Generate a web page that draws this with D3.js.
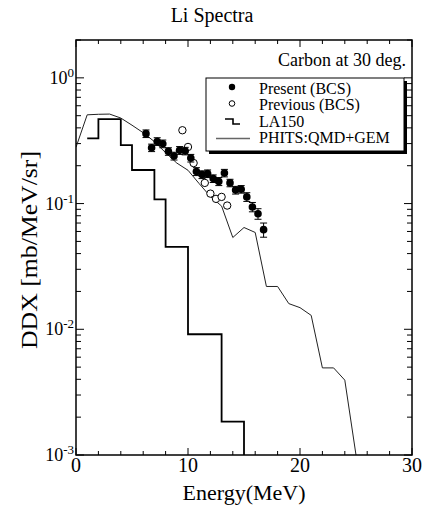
<!DOCTYPE html>
<html>
<head>
<meta charset="utf-8">
<script src="https://cdn.jsdelivr.net/npm/d3@7/dist/d3.min.js"></script>
<style>
  html, body { margin: 0; padding: 0; background: #fff; }
  svg { display: block; }
  text { font-family: "Liberation Serif", "Times New Roman", serif; fill: #000; }
</style>
</head>
<body>
<svg id="chart" width="424" height="508"></svg>
<script>
// ---- Data ----
const presentEnergy = [6.25, 6.75, 7.25, 7.75, 8.25, 8.75, 9.25, 9.75, 10.25, 10.75, 11.25,
                       11.75, 12.25, 12.75, 13.25, 13.75, 14.25, 14.75, 15.25, 15.75, 16.25, 16.75];
const presentDDX = [0.360, 0.278, 0.312, 0.299, 0.260, 0.239, 0.265, 0.262, 0.230, 0.180, 0.170,
                    0.173, 0.158, 0.150, 0.175, 0.146, 0.128, 0.130, 0.113, 0.094, 0.083, 0.062];
const presentErr = [0.025, 0.019, 0.022, 0.021, 0.018, 0.017, 0.019, 0.018, 0.016, 0.013, 0.012,
                    0.012, 0.011, 0.011, 0.012, 0.010, 0.009, 0.009, 0.009, 0.008, 0.008, 0.008];

const previousEnergy = [9.5, 10.0, 10.5, 11.5, 12.0, 12.5, 13.0, 13.5];
const previousDDX = [0.383, 0.282, 0.210, 0.146, 0.120, 0.109, 0.113, 0.0964];

const la150Energy = [1, 2, 4, 5, 7, 8, 10, 13, 15];
const la150DDX = [0.330, 0.470, 0.292, 0.185, 0.108, 0.0453, 0.00913, 0.00184, 0.001];

const phitsEnergy = [0, 1, 2, 3, 4, 5, 6, 7, 8, 9, 10, 11, 12, 13, 14, 15, 16, 17, 18, 19, 20, 21, 22, 23, 24, 25];
const phitsDDX = [0.2805, 0.508, 0.513, 0.515, 0.479, 0.420, 0.366, 0.311, 0.254, 0.210, 0.184, 0.144, 0.1137,
                  0.0955, 0.0537, 0.0645, 0.0589, 0.0219, 0.0219, 0.0160, 0.01486, 0.0129, 0.00493, 0.00493,
                  0.00394, 0.001];

const xTickValues = [0, 10, 20, 30];
const xMinorStep = 2;
const yTickExponents = [0, -1, -2, -3];

const titleText = "Li Spectra";
const xTitle = "Energy(MeV)";
const yTitle = "DDX [mb/MeV/sr]";
const noteText = "Carbon at 30 deg.";
const legendLabels = ["Present (BCS)", "Previous (BCS)", "LA150", "PHITS:QMD+GEM"];

// ---- Layout ----
const L = 76, R = 412, T = 40, B = 455;
const svg = d3.select("#chart");

const x = d3.scaleLinear().domain([0, 30]).range([L, R]);
const y = d3.scaleLog().domain([1e-3, 2]).range([B, T]);

svg.append("defs").append("clipPath").attr("id", "plotclip")
  .append("rect").attr("x", L).attr("y", T).attr("width", R - L).attr("height", B - T);

// Title
svg.append("text").attr("x", 212).attr("y", 22)
  .attr("text-anchor", "middle").style("font-size", "20px").text(titleText);

// ---- Ticks ----
const MAJ = 7, MIN = 4;
const tickG = svg.append("g").attr("stroke", "#000").attr("stroke-width", 1);
const xMinor = d3.range(0, 30.001, xMinorStep).filter(v => !xTickValues.includes(v));
xTickValues.forEach(v => {
  tickG.append("line").attr("x1", x(v)).attr("x2", x(v)).attr("y1", B).attr("y2", B - MAJ);
  tickG.append("line").attr("x1", x(v)).attr("x2", x(v)).attr("y1", T).attr("y2", T + MAJ);
});
xMinor.forEach(v => {
  tickG.append("line").attr("x1", x(v)).attr("x2", x(v)).attr("y1", B).attr("y2", B - MIN);
  tickG.append("line").attr("x1", x(v)).attr("x2", x(v)).attr("y1", T).attr("y2", T + MIN);
});
const yMajor = yTickExponents.map(e => Math.pow(10, e));
const yMinor = [];
[-3, -2, -1, 0].forEach(e => { for (let k = 2; k <= 9; k++) { const v = k * Math.pow(10, e); if (v <= 2) yMinor.push(v); } });
yMajor.forEach(v => {
  tickG.append("line").attr("x1", L).attr("x2", L + MAJ + 1).attr("y1", y(v)).attr("y2", y(v));
  tickG.append("line").attr("x1", R).attr("x2", R - MAJ - 1).attr("y1", y(v)).attr("y2", y(v));
});
yMinor.forEach(v => {
  tickG.append("line").attr("x1", L).attr("x2", L + MIN + 1).attr("y1", y(v)).attr("y2", y(v));
  tickG.append("line").attr("x1", R).attr("x2", R - MIN - 1).attr("y1", y(v)).attr("y2", y(v));
});

// Tick labels
xTickValues.forEach(v => {
  svg.append("text").attr("x", x(v)).attr("y", 472).attr("text-anchor", "middle")
    .style("font-size", "20px").text(v);
});
yTickExponents.forEach(e => {
  const t = svg.append("text").attr("x", 74).attr("y", y(Math.pow(10, e)) + 6)
    .attr("text-anchor", "end").style("font-size", "18px");
  t.append("tspan").text("10");
  t.append("tspan").attr("dy", -7).style("font-size", "13px").text(e === 0 ? "0" : "-" + Math.abs(e));
});

// Axis titles
svg.append("text").attr("x", (L + R) / 2).attr("y", 500).attr("text-anchor", "middle")
  .style("font-size", "22px").text(xTitle);
svg.append("text").attr("transform", `translate(37,250) rotate(-90)`)
  .attr("text-anchor", "middle").style("font-size", "24px")
  .attr("textLength", 198).attr("lengthAdjust", "spacingAndGlyphs").text(yTitle);

// ---- Data marks ----
const plot = svg.append("g").attr("clip-path", "url(#plotclip)");

// LA150 step histogram
const la150 = la150Energy.map((e, i) => [e, la150DDX[i]]);
plot.append("path").datum(la150)
  .attr("fill", "none").attr("stroke", "#000").attr("stroke-width", 1.8)
  .attr("d", d3.line().x(d => x(d[0])).y(d => y(d[1])).curve(d3.curveStepAfter));

// PHITS line
const phits = phitsEnergy.map((e, i) => [e, phitsDDX[i]]);
plot.append("path").datum(phits)
  .attr("fill", "none").attr("stroke", "#222").attr("stroke-width", 1)
  .attr("d", d3.line().x(d => x(d[0])).y(d => y(d[1])));

// Previous (open circles)
const prev = previousEnergy.map((e, i) => [e, previousDDX[i]]);
plot.selectAll("circle.prev").data(prev).enter().append("circle")
  .attr("class", "prev").attr("cx", d => x(d[0])).attr("cy", d => y(d[1])).attr("r", 3.7)
  .attr("fill", "#fff").attr("stroke", "#000").attr("stroke-width", 1);

// Present (filled with error bars)
const pres = presentEnergy.map((e, i) => [e, presentDDX[i], presentErr[i]]);
const eb = plot.append("g").attr("stroke", "#000").attr("stroke-width", 1);
pres.forEach(d => {
  const cx = x(d[0]), y1 = y(d[1] + d[2]), y2 = y(d[1] - d[2]);
  eb.append("line").attr("x1", cx).attr("x2", cx).attr("y1", y1).attr("y2", y2);
  eb.append("line").attr("x1", cx - 3.5).attr("x2", cx + 3.5).attr("y1", y1).attr("y2", y1);
  eb.append("line").attr("x1", cx - 3.5).attr("x2", cx + 3.5).attr("y1", y2).attr("y2", y2);
});
plot.selectAll("circle.pres").data(pres).enter().append("circle")
  .attr("class", "pres").attr("cx", d => x(d[0])).attr("cy", d => y(d[1])).attr("r", 3.8)
  .attr("fill", "#000");

// Frame
svg.append("rect").attr("x", L).attr("y", T).attr("width", R - L).attr("height", B - T)
  .attr("fill", "none").attr("stroke", "#000").attr("stroke-width", 1.5);

// Note
svg.append("text").attr("x", 406).attr("y", 66).attr("text-anchor", "end")
  .style("font-size", "18px").text(noteText);

// ---- Legend ----
const lx = 206, ly = 78, lw = 198, lh = 73;
svg.append("rect").attr("x", lx + 3).attr("y", ly + 3).attr("width", lw).attr("height", lh).attr("fill", "#000");
svg.append("rect").attr("x", lx).attr("y", ly).attr("width", lw).attr("height", lh)
  .attr("fill", "#fff").attr("stroke", "#000").attr("stroke-width", 1);
const rowY = [88, 104.5, 121, 137.5];
legendLabels.forEach((lab, i) => {
  svg.append("text").attr("x", 259).attr("y", rowY[i] + 5.5).style("font-size", "16px").text(lab);
});
svg.append("circle").attr("cx", 232).attr("cy", rowY[0] - 1).attr("r", 3.2).attr("fill", "#000");
svg.append("circle").attr("cx", 232).attr("cy", rowY[1] - 1).attr("r", 2.8)
  .attr("fill", "#fff").attr("stroke", "#000").attr("stroke-width", 1);
svg.append("path").attr("d", `M225,${rowY[2] - 2}H233V${rowY[2] + 3}H240`)
  .attr("fill", "none").attr("stroke", "#000").attr("stroke-width", 1.6);
svg.append("line").attr("x1", 216).attr("x2", 250).attr("y1", rowY[3] + 1).attr("y2", rowY[3] + 1)
  .attr("stroke", "#666").attr("stroke-width", 1.5);
</script>
</body>
</html>
